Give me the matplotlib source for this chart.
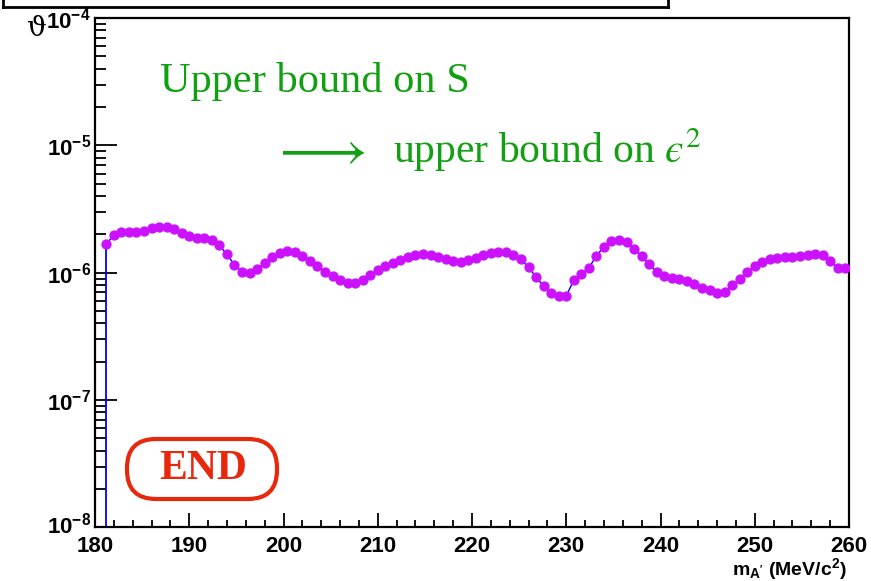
import matplotlib
matplotlib.use("Agg")
import matplotlib.pyplot as plt
from matplotlib.transforms import IdentityTransform, ScaledTranslation
from matplotlib.patches import FancyBboxPatch
from matplotlib.lines import Line2D
from matplotlib.ticker import FixedLocator, LogLocator, NullFormatter, FuncFormatter
import numpy as np

plt.rcParams['mathtext.fontset'] = 'custom'
plt.rcParams['mathtext.rm'] = 'Liberation Sans:bold'
plt.rcParams['mathtext.bf'] = 'Liberation Sans:bold'
plt.rcParams['mathtext.it'] = 'Liberation Sans:bold'
plt.rcParams['font.family'] = ['Liberation Sans', 'DejaVu Sans']

# ---------------- data ----------------
mass = [181.2, 182.0, 182.8, 183.6, 184.4, 185.2, 186.0, 186.8, 187.6, 188.4,
        189.2, 190.0, 190.8, 191.6, 192.4, 193.2, 194.0, 194.8, 195.6, 196.4,
        197.2, 198.0, 198.8, 199.6, 200.4, 201.2, 202.0, 202.8, 203.6, 204.4,
        205.2, 206.0, 206.8, 207.6, 208.4, 209.2, 210.0, 210.8, 211.6, 212.4,
        213.2, 214.0, 214.8, 215.6, 216.4, 217.2, 218.0, 218.8, 219.6, 220.4,
        221.2, 222.0, 222.8, 223.6, 224.4, 225.2, 226.0, 226.8, 227.6, 228.4,
        229.2, 230.0, 230.8, 231.6, 232.4, 233.2, 234.0, 234.8, 235.6, 236.4,
        237.2, 238.0, 238.8, 239.6, 240.4, 241.2, 242.0, 242.8, 243.6, 244.4,
        245.2, 246.0, 246.8, 247.6, 248.4, 249.2, 250.0, 250.8, 251.6, 252.4,
        253.2, 254.0, 254.8, 255.6, 256.4, 257.2, 258.0, 258.8, 259.6]

# upper bound, in units of 1e-6
bound_e6 = [1.67, 1.99, 2.10, 2.08, 2.09, 2.11, 2.23, 2.29, 2.29, 2.19,
            2.05, 1.93, 1.88, 1.86, 1.80, 1.64,
            1.39, 1.15, 1.02, 1.00, 1.07, 1.20, 1.34, 1.44, 1.47, 1.45,
            1.35, 1.24, 1.13, 1.01, 0.937, 0.872, 0.830,
            0.834, 0.876, 0.954, 1.045, 1.12, 1.19, 1.26, 1.33, 1.38, 1.40,
            1.38, 1.34, 1.28, 1.24, 1.22, 1.25, 1.31,
            1.38, 1.42, 1.46, 1.45, 1.38, 1.27, 1.10, 0.925, 0.782, 0.689,
            0.656, 0.659, 0.872, 0.977, 1.09, 1.36,
            1.60, 1.77, 1.82, 1.73, 1.53, 1.35, 1.16, 1.02, 0.937, 0.904,
            0.887, 0.865, 0.820, 0.762, 0.727, 0.693, 0.710,
            0.80, 0.888, 1.01, 1.13, 1.21, 1.28, 1.31, 1.32, 1.33, 1.35,
            1.38, 1.40, 1.38, 1.24, 1.09, 1.09]
scale = 1e-6
bound = [v * scale for v in bound_e6]

xticks = [180, 190, 200, 210, 220, 230, 240, 250, 260]
ylims = (1e-8, 1e-4)

# ---------------- figure ----------------
W, H = 871, 581
fig = plt.figure(figsize=(W / 100, H / 100), dpi=100)
L, R, T, B = 95, 849, 18.1, 527.3
ax = fig.add_axes([L / W, 1 - B / H, (R - L) / W, (B - T) / H])

ax.set_yscale('log')
ax.set_xlim(180, 260)
ax.set_ylim(*ylims)

# blue connecting line (drops from first point to the bottom)
ax.plot([mass[0], mass[0]], [ylims[0], bound[0]], color='#0000ff', lw=1.3, zorder=2)
ax.plot(mass, bound, color='#0000ff', lw=1.0, zorder=2)
ax.plot(mass, bound, ls='none', marker='o', ms=6.4, mfc='#cc11ff', mec='#cc11ff', zorder=3)

# ticks
ax.xaxis.set_major_locator(FixedLocator(xticks))
ax.xaxis.set_minor_locator(FixedLocator(np.arange(180, 261, 2)))
ax.yaxis.set_major_locator(LogLocator(base=10, numticks=10))
ax.yaxis.set_minor_locator(LogLocator(base=10, subs=np.arange(2, 10), numticks=20))
ax.yaxis.set_minor_formatter(NullFormatter())
ax.yaxis.set_major_formatter(FuncFormatter(
    lambda v, p: r'$\mathbf{10^{%d}}$' % int(round(np.log10(v)))))
ax.xaxis.set_major_formatter(FuncFormatter(lambda v, p: '%d' % v))

ax.tick_params(axis='x', which='major', direction='in', length=10, width=1.3,
               labelsize=16, pad=6, top=False)
ax.tick_params(axis='x', which='minor', direction='in', length=5, width=1.3, top=False)
ax.tick_params(axis='y', which='major', direction='in', length=16, width=1.3,
               labelsize=16, pad=3, right=False)
ax.tick_params(axis='y', which='minor', direction='in', length=8, width=1.3, right=False)
for lab in ax.get_xticklabels():
    lab.set_fontweight('bold')
for sp in ax.spines.values():
    sp.set_linewidth(1.6)

# lift the lowest y label a little so it does not touch the "180" label
fig.canvas.draw()
for tick in ax.yaxis.get_major_ticks():
    if abs(tick.get_loc() - ylims[0]) < 1e-12:
        lab = tick.label1
        lab.set_transform(lab.get_transform() +
                          ScaledTranslation(0, 3 / 72, fig.dpi_scale_trans))

# axis titles
fig.text(847 / W, 1 - 575 / H, r"$\mathbf{m_{A'}}$ (MeV/c$^{\mathbf{2}}$)",
         ha='right', va='baseline', fontsize=14, fontweight='bold')
fig.text(36 / W, 1 - 28 / H, 'ϑ', ha='center', va='center', fontsize=20,
         family=['DejaVu Serif'])

# annotations
green = '#11a011'
fig.text(160 / W, 1 - 92 / H, 'Upper bound on S', ha='left', va='baseline',
         fontsize=30.5, color=green, family=['Liberation Serif'])
fig.text(271 / W, 1 - 165 / H, r'$\longrightarrow$',
         ha='left', va='baseline', fontsize=40, color=green,
         math_fontfamily='stix')
fig.text(393 / W, 1 - 163 / H, 'upper bound on $\u03f5^2$',
         ha='left', va='baseline', fontsize=30, color=green,
         family=['Liberation Serif'], math_fontfamily='stix')

red = '#e8280c'
box = FancyBboxPatch((127, H - 499), 150, 60,
                     boxstyle='round,pad=0,rounding_size=29',
                     transform=IdentityTransform(), fill=False,
                     ec=red, lw=3.0, zorder=5)
fig.patches.append(box)
fig.text(203 / W, 1 - 469 / H, 'END', ha='center', va='center', fontsize=30,
         fontweight='bold', color=red, family=['Liberation Serif'])

# frame of the box at the top-left
for xs, ys in [((3, 668), (H - 7, H - 7)), ((3, 3), (H - 7, H + 5)),
               ((668, 668), (H - 7, H + 5))]:
    fig.lines.append(Line2D(xs, ys, transform=IdentityTransform(),
                            color='black', lw=2.0))

fig.savefig('out.png', dpi=100)
